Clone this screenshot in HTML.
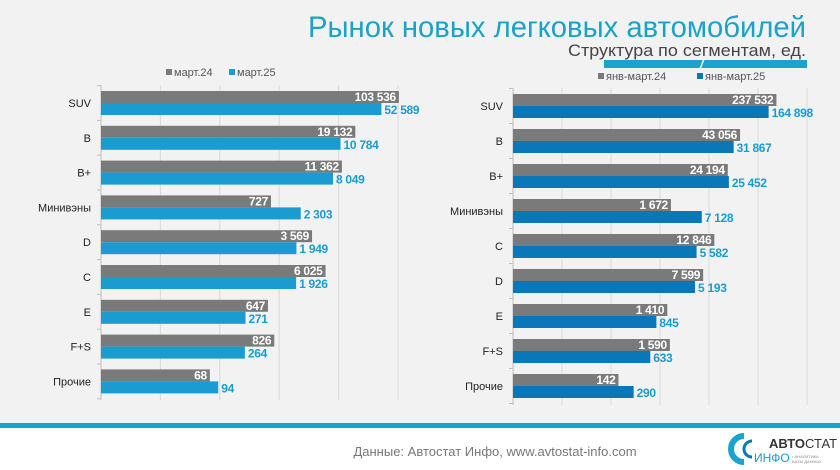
<!DOCTYPE html>
<html><head><meta charset="utf-8">
<style>
html,body{margin:0;padding:0;}
body{width:840px;height:470px;overflow:hidden;background:#f2f2f2;font-family:"Liberation Sans",sans-serif;}
svg{display:block;}
</style></head><body>
<svg id="s" width="840" height="470" xmlns="http://www.w3.org/2000/svg" font-family="Liberation Sans, sans-serif">
<rect x="0" y="0" width="840" height="470" fill="#f2f2f2"/>
<rect x="0" y="428" width="840" height="42" fill="#ffffff"/>
<rect x="0" y="423" width="840" height="5" fill="#1aa3cc"/>
<text x="806" y="37" text-anchor="end" font-size="30" fill="#1aa3c8" textLength="498" lengthAdjust="spacingAndGlyphs">Рынок новых легковых автомобилей</text>
<text x="806" y="56" text-anchor="end" font-size="17" fill="#444" textLength="238" lengthAdjust="spacingAndGlyphs">Структура по сегментам, ед.</text>
<rect x="604" y="60" width="203" height="8" fill="#1aa3cc"/>
<line x1="700" y1="69" x2="704" y2="59" stroke="#fff" stroke-width="1.5"/>
<rect x="166" y="69" width="6" height="6" fill="#7a7a7a"/><text x="174" y="76" font-size="11" fill="#555">март.24</text>
<rect x="229" y="69" width="6" height="6" fill="#1a9cd0"/><text x="237" y="76" font-size="11" fill="#555">март.25</text>
<rect x="598" y="73" width="6" height="6" fill="#7a7a7a"/><text x="606" y="80" font-size="11" fill="#555">янв-март.24</text>
<rect x="697" y="73" width="6" height="6" fill="#0a78b8"/><text x="705" y="80" font-size="11" fill="#555">янв-март.25</text>
<text x="495" y="456" text-anchor="middle" font-size="13" fill="#777">Данные: Автостат Инфо, www.avtostat-info.com</text>
<g>
<path d="M744 436 A13 13 0 1 0 744 462" fill="none" stroke="#1aa3cc" stroke-width="6"/>
<path d="M752 441 A8 8 0 1 0 752 457" fill="none" stroke="#0a78b8" stroke-width="3"/>
<text x="769" y="448" font-size="13" font-weight="bold" fill="#333">АВТО<tspan font-weight="normal">СТАТ</tspan></text>
<text x="754" y="462" font-size="12" fill="#1a9cd0">ИНФО</text>
<text x="792" y="458" font-size="4" fill="#888">• АНАЛИТИКА</text>
<text x="792" y="463" font-size="4" fill="#888">БАЗЫ ДАННЫХ</text>
</g>
<g id="c"></g>
</svg>
<script>
var ns="http://www.w3.org/2000/svg",g=document.getElementById('c');
function el(t,a,txt){var e=document.createElementNS(ns,t);for(var k in a)e.setAttribute(k,a[k]);if(txt!==undefined)e.textContent=txt;g.appendChild(e);return e;}
function fmt(v){return String(v).replace(/\B(?=(\d{3})+(?!\d))/g,' ');}
function chart(o){
 var n=o.cats.length;
 for(var i=1;i<o.grids;i++){var x=o.x0+i*o.dec;el('line',{x1:x,y1:o.top,x2:x,y2:o.bot,stroke:'#d9d9d9','stroke-width':1});}
 el('line',{x1:o.x0,y1:o.top,x2:o.x0,y2:o.bot,stroke:'#bfbfbf','stroke-width':1});
 for(var i=0;i<=n;i++){var y=o.c0-o.sp/2+i*o.sp;el('line',{x1:o.x0-4,y1:y,x2:o.x0,y2:y,stroke:'#bfbfbf'});}
 for(var i=0;i<n;i++){
  var c=o.c0+i*o.sp,a=o.a[i],b=o.b[i];
  var wa=Math.log10(a)*o.dec,wb=Math.log10(b)*o.dec;
  el('rect',{x:o.x0,y:c-12,width:wa,height:12,fill:'#7a7a7a'});
  el('rect',{x:o.x0,y:c,width:wb,height:12,fill:o.col});
  el('text',{x:o.x0+wa-3,y:c-2,'text-anchor':'end','font-size':12,'font-weight':'bold','letter-spacing':'-0.3',fill:'#fff'},fmt(a));
  el('text',{x:o.x0+wb+3,y:c+11,'font-size':12,'font-weight':'bold','letter-spacing':'-0.3',fill:o.lcol},fmt(b));
  el('text',{x:o.x0-10,y:c+4,'text-anchor':'end','font-size':11,fill:'#222'},o.cats[i]);
 }
}
chart({x0:101,dec:59.4,grids:6,top:85,bot:400,c0:103,sp:34.8,col:'#1a9cd0',lcol:'#1a9cd0',
 cats:['SUV','B','B+','Минивэны','D','C','E','F+S','Прочие'],
 a:[103536,19132,11362,727,3569,6025,647,826,68],b:[52589,10784,8049,2303,1949,1926,271,264,94]});
chart({x0:513,dec:49,grids:7,top:88,bot:405,c0:106,sp:35,col:'#0a78b8',lcol:'#1a9cd0',
 cats:['SUV','B','B+','Минивэны','C','D','E','F+S','Прочие'],
 a:[237532,43056,24194,1672,12846,7599,1410,1590,142],b:[164898,31867,25452,7128,5582,5193,845,633,290]});
</script>
</body></html>
